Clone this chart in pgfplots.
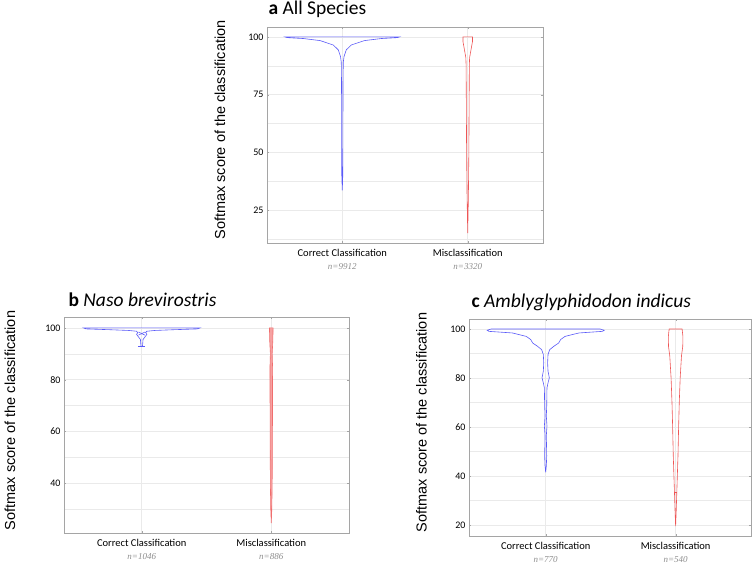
\documentclass[border=0pt]{standalone}
\usepackage{pgfplots}
\pgfplotsset{compat=1.18}
\usepackage{fontspec}
\setmainfont{Carlito}
\newfontfamily\arialfont{Liberation Sans}
\newfontfamily\timesfont{Liberation Serif}

\definecolor{vblue}{RGB}{90,90,248}
\definecolor{vred}{RGB}{238,85,85}
\definecolor{framegray}{RGB}{165,165,165}
\definecolor{gridgray}{RGB}{234,234,234}
\definecolor{ngray}{RGB}{140,140,140}

\newcommand{\nlab}[1]{{\timesfont\itshape\fontsize{9}{10}\selectfont\color{ngray}#1}}

\pgfplotsset{
  violinpanel/.style={
    scale only axis, anchor=north west,
    xmin=-0.6, xmax=1.6,
    xtick={0,1},
    axis line style={framegray},
    tick style={framegray}, major tick length=2pt, minor tick length=0pt,
    xmajorgrids, ymajorgrids, yminorgrids,
    grid style={gridgray, line width=0.5pt},
    minor grid style={gridgray, line width=0.4pt},
    /pgf/number format/assume math mode=true,
    yticklabel style={font=\fontsize{10}{12}\selectfont},
    xticklabel style={align=center, font=\fontsize{10.5}{14}\selectfont, yshift=-3pt},
  },
  vio/.style={line width=0.6pt},
}

\begin{document}
\begin{tikzpicture}
\path[use as bounding box] (0,0) rectangle (756pt,-567pt);

% ---------- a: all species ----------
\node[anchor=base west, font=\fontsize{19.5}{20}\selectfont] at (265pt,-15pt) {\textbf{a} All Species};
\node[rotate=90, font=\arialfont\fontsize{14.5}{16}\selectfont] at (220pt,-130pt) {Softmax score of the classification};
\begin{axis}[violinpanel,
  at={(267pt,-27pt)}, width=276pt, height=216pt,
  ymin=10.7, ymax=104.3,
  ytick={25,50,75,100}, minor ytick={12.5,37.5,62.5,87.5},
  xticklabels={{Correct Classification\\[-1.5pt]\nlab{n=9912}}, {Misclassification\\[-1.5pt]\nlab{n=3320}}},
]
\addplot[vio, vblue] coordinates {
  (-0.456,100) (-0.44,99.7) (-0.31,99.3) (-0.176,98.4) (-0.072,96.5) (-0.032,94.4)
  (-0.014,91.5) (-0.008,89) (-0.006,80) (-0.005,60) (-0.004,40) (0,33.5)
  (0.004,40) (0.005,60) (0.006,80) (0.008,89) (0.014,91.5) (0.032,94.4)
  (0.072,96.5) (0.176,98.4) (0.31,99.3) (0.44,99.7) (0.456,100)
} -- cycle;
\addplot[vio, vred] coordinates {
  (0.962,100) (0.962,98) (0.972,95) (0.985,91) (0.987,88) (0.989,70) (0.991,50)
  (0.995,30) (1,15) (1.005,30) (1.009,50) (1.011,70) (1.013,88) (1.015,91)
  (1.028,95) (1.038,98) (1.038,100)
} -- cycle;
\end{axis}

% ---------- b: Naso brevirostris ----------
\node[anchor=base west, font=\fontsize{19.5}{20}\selectfont] at (65pt,-306pt) {\textbf{b} \textit{Naso brevirostris}};
\node[rotate=90, font=\arialfont\fontsize{14.5}{16}\selectfont] at (10pt,-420.5pt) {Softmax score of the classification};
\begin{axis}[violinpanel,
  at={(64pt,-317pt)}, width=285pt, height=216pt,
  ymin=20.8, ymax=104.2,
  ytick={40,60,80,100}, minor ytick={30,50,70,90},
  xticklabels={{Correct Classification\\[-1.5pt]\nlab{n=1046}}, {Misclassification\\[-1.5pt]\nlab{n=886}}},
]
\addplot[vio, vblue] coordinates {
  (-0.45,100) (-0.43,99.6) (-0.25,99.3) (-0.1,99.0) (-0.04,98.7) (-0.03,98.2)
  (-0.04,97.5) (-0.025,96.5) (-0.01,95.5) (-0.006,93) (0,92.8)
  (0.006,93) (0.01,95.5) (0.025,96.5) (0.04,97.5) (0.03,98.2) (0.04,98.7)
  (0.1,99.0) (0.25,99.3) (0.43,99.6) (0.45,100)
} -- cycle;
\addplot[vio, vblue] coordinates {(-0.025,92.8) (0.025,92.8)};
\addplot[vio, vblue] coordinates {(-0.025,98.4) (0.025,97.2)};
\addplot[vio, vblue] coordinates {(-0.025,97.2) (0.025,98.4)};
\addplot[vio, vred!85, fill=vred!55] coordinates {
  (0.986,100) (0.988,95) (0.993,90) (0.99,85) (0.991,60) (0.993,40) (0.996,30)
  (1,24.6) (1.004,30) (1.007,40) (1.009,60) (1.01,85) (1.007,90) (1.012,95) (1.014,100)
} -- cycle;
\end{axis}

% ---------- c: Amblyglyphidodon indicus ----------
\node[anchor=base west, font=\fontsize{19.5}{20}\selectfont] at (468pt,-308pt) {\textbf{c} \textit{Amblyglyphidodon indicus}};
\node[rotate=90, font=\arialfont\fontsize{14.5}{16}\selectfont] at (421.5pt,-422.5pt) {Softmax score of the classification};
\begin{axis}[violinpanel,
  at={(469pt,-319pt)}, width=282pt, height=217pt,
  xmin=-0.59, xmax=1.58,
  ymin=15.5, ymax=104.1,
  ytick={20,40,60,80,100}, minor ytick={30,50,70,90},
  xticklabels={{Correct Classification\\[-1.5pt]\nlab{n=770}}, {Misclassification\\[-1.5pt]\nlab{n=540}}},
]
\addplot[vio, vblue] coordinates {
  (-0.42,100) (-0.45,99.5) (-0.436,99.05) (-0.256,98.4) (-0.149,97.0) (-0.115,95.7)
  (-0.10,94.3) (-0.064,93.0) (-0.031,91.6) (-0.018,89.6) (-0.015,86.2) (-0.018,82.8)
  (-0.028,80.1) (-0.018,78.0) (-0.01,76.0) (-0.008,68.6) (-0.005,64.5) (-0.01,60.4)
  (-0.005,56.4) (-0.008,48.2) (-0.005,44.2) (0,41.5)
  (0.005,44.2) (0.008,48.2) (0.005,56.4) (0.01,60.4) (0.005,64.5) (0.008,68.6)
  (0.01,76.0) (0.018,78.0) (0.028,80.1) (0.018,82.8) (0.015,86.2) (0.018,89.6)
  (0.031,91.6) (0.064,93.0) (0.10,94.3) (0.115,95.7) (0.149,97.0) (0.256,98.4)
  (0.436,99.05) (0.45,99.5) (0.42,100)
} -- cycle;
\addplot[vio, vred] coordinates {
  (0.95,100) (0.944,97) (0.945,93) (0.955,89) (0.965,80) (0.972,70) (0.977,60)
  (0.982,48) (0.99,35) (0.996,25) (1,19.5)
  (1.004,25) (1.01,35) (1.018,48) (1.023,60) (1.028,70) (1.035,80) (1.045,89)
  (1.055,93) (1.056,97) (1.05,100)
} -- cycle;
\addplot[vio, vred] coordinates {(0.99,33.4) (1.01,33.4)};
\end{axis}
\end{tikzpicture}
\end{document}
